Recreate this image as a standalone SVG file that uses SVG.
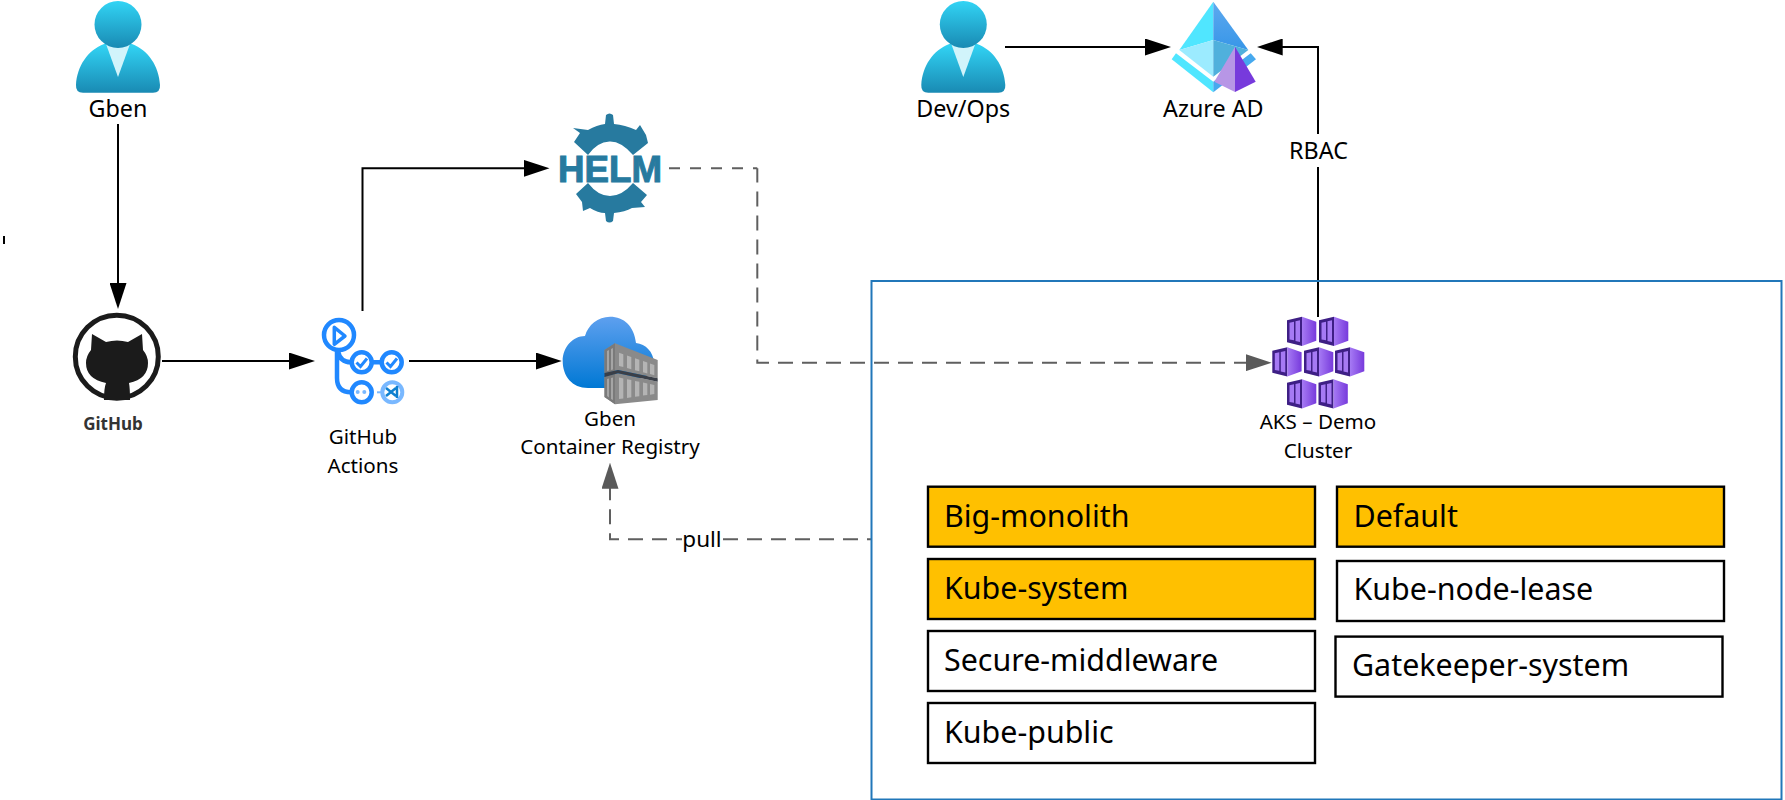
<svg xmlns="http://www.w3.org/2000/svg" width="1785" height="800" viewBox="0 0 1785 800">
<style>
text{font-family:"Noto Sans","Open Sans","Liberation Sans",sans-serif;fill:#000}
.lb{font-size:20.600px;text-anchor:middle}
.lg{font-size:23.300px;text-anchor:middle}
.lp{font-size:22.500px;text-anchor:middle}
.ns{font-size:30.400px}
.c{fill:none;stroke:#000;stroke-width:2}
.d{fill:none;stroke:#5f5f5f;stroke-width:2}
.box{stroke:#000;stroke-width:2.400;fill:#fff}
.on{fill:#FFC000}
.ring{fill:none;stroke:#2088FF;stroke-width:4.500}
.st{fill:#b4b4b4}
.tick{fill:none;stroke:#2088FF;stroke-width:3}
</style>
<defs>
<marker id="ah" markerUnits="userSpaceOnUse" markerWidth="26" markerHeight="17" refX="16" refY="8.500" orient="auto"><path d="M0 0L26 8.500L0 17Z" fill="#000"/></marker>
<marker id="ahg" markerUnits="userSpaceOnUse" markerWidth="26" markerHeight="17" refX="16" refY="8.500" orient="auto"><path d="M0 0L26 8.500L0 17Z" fill="#5a5a5a"/></marker>
<linearGradient id="pg" x1="0" y1="0" x2="0" y2="1"><stop offset="0" stop-color="#32D4F5"/><stop offset="1" stop-color="#198AB3"/></linearGradient>
<linearGradient id="cg" x1="0" y1="0" x2="0" y2="1"><stop offset="0" stop-color="#5EA0EF"/><stop offset="1" stop-color="#0078D4"/></linearGradient>
<linearGradient id="kg" x1="0" y1="0" x2="1" y2="0"><stop offset="0" stop-color="#A67AF4"/><stop offset="1" stop-color="#773ADC"/></linearGradient>
<linearGradient id="ag" x1="0" y1="0" x2="0" y2="1"><stop offset="0" stop-color="#5EA9EF"/><stop offset="1" stop-color="#3796E8"/></linearGradient>
<g id="person">
<path d="M-42 85C-41 66-30 50-14 44H14C30 50 41 66 42 85Q42.500 92.700 35 92.700H-35Q-42.500 92.700-42 85Z" fill="url(#pg)"/>
<path d="M-12 44H12L0 77Z" fill="#D1F4FB"/>
<circle cx="0" cy="24.500" r="23.500" fill="url(#pg)"/>
</g>
<g id="cube">
<path d="M0 3.500L15 0V29.300L0 25.500Z" fill="#3E1F85"/>
<path d="M2.500 6L7 5V23.500L2.500 22.700ZM8.500 4.600L13 3.600V25.300L8.500 24.200Z" fill="#A67AF4"/>
<path d="M15 0L29.300 5V24L15 29.300Z" fill="url(#kg)"/>
</g>
</defs>

<g id="connectors">
<path class="c" marker-end="url(#ah)" d="M118 124V299"/>
<path class="c" marker-end="url(#ah)" d="M162 361H305"/>
<path class="c" marker-end="url(#ah)" d="M362.500 311V168.300H539.500"/>
<path class="c" marker-end="url(#ah)" d="M409 361H551.700"/>
<path class="c" marker-end="url(#ah)" d="M1005 47H1161"/>
<path class="c" d="M1318 317V167"/>
<path class="c" marker-end="url(#ah)" d="M1318 134V47H1266.700"/>
<path class="d" stroke-dasharray="11 10" d="M669 168.300H757.300"/>
<path class="d" stroke-dasharray="15 9" stroke-dashoffset="0.900" marker-end="url(#ahg)" d="M757.300 168.300V362.700H1261.700"/>
<path class="d" stroke-dasharray="15 9" stroke-dashoffset="11" d="M871 539.300H723"/>
<path class="d" stroke-dasharray="15 9" stroke-dashoffset="9" marker-end="url(#ahg)" d="M682 539.300H610V472.700"/>
<path d="M4 236V244" stroke="#000" stroke-width="2"/>
</g>

<g id="node-gben"><use href="#person" x="118"/><text class="lg" x="118" y="116.700">Gben</text></g>

<g id="node-github">
<circle cx="116.800" cy="356.700" r="41.500" fill="#fff" stroke="#1b1b1b" stroke-width="5"/>
<path d="M92 334L106 342Q117 339 128 342L142 334L143 350Q148 356 148 363Q148 379 129 383Q130 388 130 400H104Q104 388 106 383Q86 379 86 363Q86 356 91 350Z" fill="#1b1b1b"/>
<text x="113" y="430" font-size="17" font-weight="700" text-anchor="middle" style="fill:#333">GitHub</text>
</g>

<g id="node-actions">
<circle class="ring" cx="339" cy="335" r="15"/>
<path d="M334.300 327.300L345 336L334.300 344.300Z" fill="none" stroke="#2088FF" stroke-width="3.500" stroke-linejoin="round"/>
<path class="ring" d="M337 350V378Q337 392.300 351 392.300M338 351Q340 362.300 351 362.300M371.700 362.300H381.700"/>
<circle class="ring" cx="361.700" cy="362.300" r="10"/>
<circle class="ring" cx="391.700" cy="362.300" r="10"/>
<circle class="ring" cx="361.700" cy="392.300" r="10"/>
<circle cx="357.700" cy="392" r="2" fill="#79B8FF"/><circle cx="364.300" cy="392" r="2" fill="#79B8FF"/>
<circle cx="392.300" cy="392.300" r="10" fill="none" stroke="#79B8FF" stroke-width="4"/>
<path d="M377 392.300H381" stroke="#79B8FF" stroke-width="2"/>
<path class="tick" d="M356.500 362.500L360.500 366.500L367 358.500M386.500 362.500L390.500 366.500L397 358.500"/>
<path d="M386 388L396 396M386 396L396 388M397 386V398" fill="none" stroke="#0E7FCF" stroke-width="2.500"/>
<text class="lb" x="363" y="444">GitHub</text>
<text class="lb" x="363" y="472.700">Actions</text>
</g>

<g id="node-helm" fill="#277A9F">
<path d="M588 155L574 142L580 133L573 128L588 130Q597 125 605 124L606 115Q609.500 112 613 115L614 124Q625 125 636 130L640 125L646 135L648 143L633 155Q621 141 609.500 141.500Q597 142 588 155Z"/>
<path d="M588 183L576 194L582 202L583 211L590 208Q598 213 605 213L606 221Q609.500 224 613 221L614 213Q625 212 632 208L645 207L641 202L647 195L633 183Q622 196 610 196Q598 196 588 183Z"/>
<text x="558" y="182" font-size="37" font-weight="700" textLength="104" lengthAdjust="spacingAndGlyphs" stroke="#277A9F" stroke-width="1" style="fill:#277A9F;font-family:'Liberation Sans',sans-serif">HELM</text>
</g>

<g id="node-acr">
<path d="M588 388C572 388 562.700 376 562.700 361C562.700 347 573 336 585 336C588 325 598 316.700 610 316.700C624 316.700 634 326 636 343C646 344 653 352 654 362L650 375L612 388Z" fill="url(#cg)"/>
<path d="M604.500 350L615 343.300L657.700 360V378.300L618 370L604.500 373Z" fill="#8a8a8a"/>
<path d="M604.500 377L618 373.300L657.700 381.700V400L615 404.300L604.500 397Z" fill="#8a8a8a"/>
<path d="M604.500 350L615 343.300V371L604.500 373ZM604.500 377L615 374V404.300L604.500 397Z" fill="#7a7a7a"/>
<path d="M604.500 373L618 370L657.700 378.300V381.700L618 373.300L604.500 377Z" fill="#3a3f48"/>
<path class="st" d="M619 352.700L623.300 354.200V367.100L619 366ZM627 355.500L631.300 357V369.200L627 368.100ZM635 358.300L639.300 359.800V371.300L635 370.200ZM643 361.100L647.300 362.600V373.400L643 372.200ZM650 363.600L654.300 365.100V375.200L650 374Z"/>
<path class="st" d="M619 377.500L623.300 378.400V398.400L619 399ZM627 379.200L631.300 380.100V397.300L627 397.900ZM635 380.900L639.300 381.800V396.200L635 396.800ZM643 382.500L647.300 383.500V395L643 395.600ZM650 384L654.300 385V394L650 394.700Z"/>
<path d="M607 351V371L609 370.500V350ZM611 349V370L613 369.500V348ZM607 379V396L609 397.500V378.500ZM611 378V399L613 400V377.500Z" fill="#a5a5a5"/>
<text class="lb" x="610" y="425.700">Gben</text>
<text class="lb" x="610" y="454.300">Container Registry</text>
</g>

<g id="node-devops"><use href="#person" x="963.300"/><text class="lg" x="963.300" y="116.700">Dev/Ops</text></g>

<g id="node-azuread">
<path d="M1171.700 59.300L1176 53.300L1213.300 81.700V92.300Z" fill="#50E6FF"/>
<path d="M1213.300 92.300V81.700L1250.700 53.300L1256 59.300Z" fill="#46A9EE"/>
<path d="M1213.300 1.700L1179.300 50L1213.300 40Z" fill="#50E6FF"/>
<path d="M1213.300 1.700L1248.300 50L1213.300 40Z" fill="url(#ag)"/>
<path d="M1179.300 50L1213.300 40V76.700Z" fill="#9CEBFF"/>
<path d="M1248.300 50L1213.300 40V76.700Z" fill="#50B0DC"/>
<path d="M1235 46.700L1214.300 81.700L1235 92Z" fill="#B796E6"/>
<path d="M1235 46.700L1255.700 81.700L1235 92Z" fill="#773ADC"/>
<text class="lg" x="1213.300" y="116.700">Azure AD</text>
</g>

<g id="node-rbac"><text class="lg" x="1318.500" y="158.700">RBAC</text></g>

<g id="node-pull"><text class="lp" x="702" y="547.300">pull</text></g>

<g id="cluster">
<rect x="871.500" y="281" width="910" height="518.500" fill="none" stroke="#2177B9" stroke-width="2"/>
</g>

<g id="node-aks">
<use href="#cube" x="1287" y="316.700"/>
<use href="#cube" x="1319" y="316.700"/>
<use href="#cube" x="1272.300" y="347.300"/>
<use href="#cube" x="1304" y="347.300"/>
<use href="#cube" x="1335" y="347.300"/>
<use href="#cube" x="1287" y="379.300"/>
<use href="#cube" x="1318.500" y="379.300"/>
<text class="lb" x="1318" y="429.300">AKS – Demo</text>
<text class="lb" x="1318" y="458.300">Cluster</text>
</g>

<g id="ns-big-monolith"><rect class="box on" x="928" y="486.700" width="387" height="60"/><text class="ns" x="944" y="527">Big-monolith</text></g>
<g id="ns-kube-system"><rect class="box on" x="928" y="559" width="387" height="60"/><text class="ns" x="944" y="599">Kube-system</text></g>
<g id="ns-secure-middleware"><rect class="box" x="928" y="631" width="387" height="60"/><text class="ns" x="944" y="671">Secure-middleware</text></g>
<g id="ns-kube-public"><rect class="box" x="928" y="703" width="387" height="60"/><text class="ns" x="944" y="743">Kube-public</text></g>
<g id="ns-default"><rect class="box on" x="1337" y="486.700" width="387" height="60"/><text class="ns" x="1353.500" y="527">Default</text></g>
<g id="ns-kube-node-lease"><rect class="box" x="1337" y="561" width="387" height="60"/><text class="ns" x="1353.500" y="600">Kube-node-lease</text></g>
<g id="ns-gatekeeper-system"><rect class="box" x="1335.500" y="636.600" width="387" height="60"/><text class="ns" x="1352" y="676">Gatekeeper-system</text></g>
</svg>
